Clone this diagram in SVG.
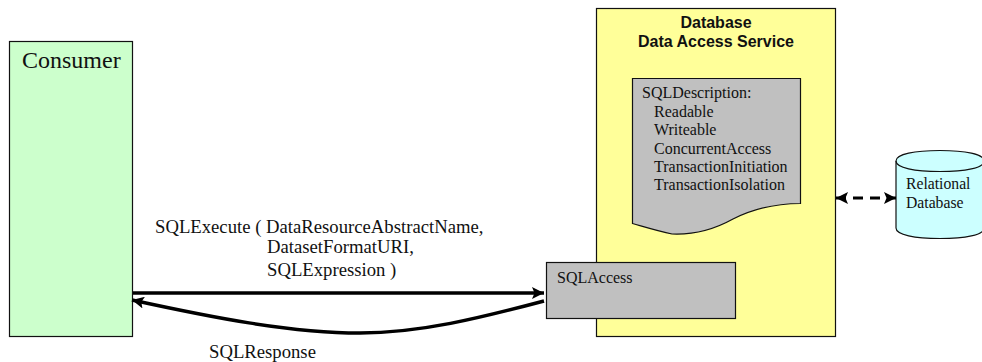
<svg xmlns="http://www.w3.org/2000/svg" width="982" height="362" viewBox="0 0 982 362">
<style>
.t{font-family:"Liberation Serif","Times New Roman",serif;fill:#111}
.s{font-size:16px}
.l{font-size:18.700px}
.b{font-family:"Liberation Sans",Arial,sans-serif;font-weight:bold;font-size:16px;fill:#111}
.box{stroke:#111;stroke-width:1.2}
.c{fill:none;stroke:#000}
</style>
<defs>
<marker id="a" markerUnits="userSpaceOnUse" markerWidth="14" markerHeight="12" refX="12" refY="6" orient="auto-start-reverse"><path d="M0 0L12 6L0 12L2.500 6Z" fill="#000"/></marker>
</defs>
<rect width="982" height="362" fill="#fff"/>
<g id="consumer"><rect class="box" x="9.500" y="41.500" width="123" height="295" fill="#ccffcc"/>
<text class="t" x="22" y="68" font-size="24">Consumer</text></g>
<g id="service"><rect class="box" x="596.500" y="8.500" width="239" height="328" fill="#ffff99"/>
<text class="b" x="716" y="28" text-anchor="middle">Database</text>
<text class="b" x="716" y="47" text-anchor="middle">Data Access Service</text></g>
<g id="description"><path class="box" d="M632.500 78.500H800.500V203.500C775 203.500 755 208 733 219C715 229 695 235 672 234C658 231 645 227 632.500 223.500Z" fill="#c0c0c0"/>
<text class="t s" x="642" y="98">SQLDescription:</text>
<text class="t s" x="654" y="117">Readable</text>
<text class="t s" x="654" y="135">Writeable</text>
<text class="t s" x="654" y="154">ConcurrentAccess</text>
<text class="t s" x="654" y="172">TransactionInitiation</text>
<text class="t s" x="654" y="190">TransactionIsolation</text></g>
<g id="access"><rect class="box" x="546.500" y="262.500" width="189" height="56" fill="#c0c0c0"/>
<text class="t s" x="557" y="283">SQLAccess</text></g>
<g id="database"><path class="box" d="M896 161V228C896 235 915 238.500 940 238.500S984 235 984 228V161C984 154 965 150.500 940 150.500S896 154 896 161Z" fill="#ccffff"/>
<path class="box" d="M896 161C896 168 915 171.500 940 171.500S984 168 984 161" fill="none"/>
<text class="t" x="906" y="189" font-size="15.700">Relational</text>
<text class="t" x="906" y="208" font-size="15.700">Database</text></g>
<g id="connectors">
<path class="c" stroke-width="3.500" d="M133 293H544" marker-end="url(#a)"/>
<path class="c" stroke-width="3.500" d="M544 301C480 318 420 333 360 333C290 333 210 317 132 300" marker-end="url(#a)"/>
<path class="c" stroke-width="3" stroke-dasharray="10 7" d="M836 198H896" marker-start="url(#a)" marker-end="url(#a)"/>
</g>
<g id="labels">
<text class="t l" x="155" y="233">SQLExecute ( DataResourceAbstractName,</text>
<text class="t l" x="267" y="253">DatasetFormatURI,</text>
<text class="t l" x="267" y="276">SQLExpression )</text>
<text class="t l" x="209" y="358">SQLResponse</text>
</g>
</svg>
